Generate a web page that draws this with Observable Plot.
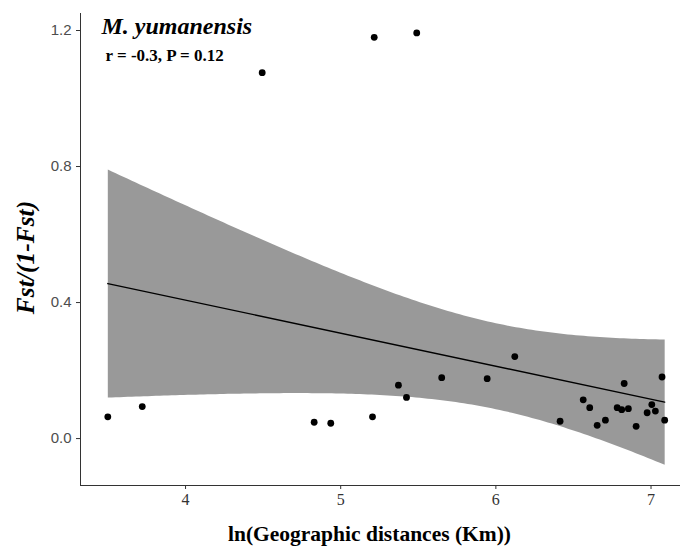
<!DOCTYPE html>
<html>
<head>
<meta charset="utf-8">
<script src="https://cdn.jsdelivr.net/npm/d3@7"></script>
<script src="https://cdn.jsdelivr.net/npm/@observablehq/plot@0.6"></script>
<style>
  html, body { margin: 0; padding: 0; background: #fff; }
  #chart svg { display: block; }
</style>
</head>
<body>
<div id="chart"></div>
<script>
// ln(Geographic distance, km)
const lnDist = [3.499, 3.721, 4.494, 4.829, 4.936, 5.205, 5.216, 5.372, 5.424, 5.490,
                5.651, 5.944, 6.122, 6.414, 6.563, 6.605, 6.653, 6.706, 6.782, 6.811,
                6.827, 6.854, 6.904, 6.975, 7.005, 7.028, 7.071, 7.088];
// Fst/(1-Fst)
const fstRatio = [0.064, 0.094, 1.076, 0.048, 0.045, 0.064, 1.180, 0.157, 0.121, 1.193,
                  0.179, 0.176, 0.241, 0.051, 0.114, 0.091, 0.039, 0.054, 0.091, 0.085,
                  0.162, 0.088, 0.036, 0.076, 0.100, 0.081, 0.181, 0.054];
const xTicks = [4, 5, 6, 7];
const yTicks = [0.0, 0.4, 0.8, 1.2];
const xDomain = [3.323, 7.19];
const yDomain = [-0.138, 1.25];
const speciesLabel = "M. yumanensis";
const statLabel = "r = -0.3, P = 0.12";
const xTitle = "ln(Geographic distances (Km))";
const yTitle = "Fst/(1-Fst)";

const data = lnDist.map((x, i) => ({x, y: fstRatio[i]}));
const serif = "Liberation Serif, Times New Roman, serif";

const chart = Plot.plot({
  width: 681,
  height: 553,
  marginLeft: 80,
  marginRight: 1,
  marginTop: 13,
  marginBottom: 68,
  style: {background: "#fff", overflow: "visible"},
  x: {domain: xDomain},
  y: {domain: yDomain},
  marks: [
    Plot.linearRegressionY(data, {x: "x", y: "y", ci: 0.95, fill: "#999999", fillOpacity: 1, stroke: "black", strokeWidth: 1.4}),
    Plot.dot(data, {x: "x", y: "y", r: 3.4, fill: "black", stroke: "none"}),
    Plot.ruleX([xDomain[0]], {stroke: "#333", strokeWidth: 1}),
    Plot.ruleY([yDomain[0]], {stroke: "#333", strokeWidth: 1}),
    Plot.axisX({ticks: xTicks, tickSize: 4, tickPadding: 4, label: null, fontSize: 16,
                tickFormat: d3.format("d"), fontFamily: serif, color: "#333", stroke: "#333"}),
    Plot.axisY({ticks: yTicks, tickSize: 4, tickPadding: 5, label: null, fontSize: 15,
                tickFormat: d3.format(".1f"), fontFamily: "Liberation Sans, Arial, sans-serif",
                color: "#4d4d4d", stroke: "#333"}),
    Plot.text([xTitle], {frameAnchor: "bottom", dx: -11, dy: 55, lineAnchor: "bottom", textAnchor: "middle",
                fontFamily: serif, fontWeight: "bold", fontSize: 21.5, fill: "black"}),
    Plot.text([yTitle], {frameAnchor: "left", dx: -55, dy: 8, rotate: -90, textAnchor: "middle",
                fontFamily: serif, fontWeight: "bold", fontStyle: "italic", fontSize: 25.5, fill: "black"}),
    Plot.text([speciesLabel], {frameAnchor: "top-left", dx: 21, dy: 20, lineAnchor: "bottom", textAnchor: "start",
                fontFamily: serif, fontWeight: "bold", fontStyle: "italic", fontSize: 24, fill: "black"}),
    Plot.text([statLabel], {frameAnchor: "top-left", dx: 25, dy: 47, lineAnchor: "bottom", textAnchor: "start",
                fontFamily: serif, fontWeight: "bold", fontSize: 17, fill: "black"})
  ]
});
document.getElementById("chart").appendChild(chart);
</script>
</body>
</html>
